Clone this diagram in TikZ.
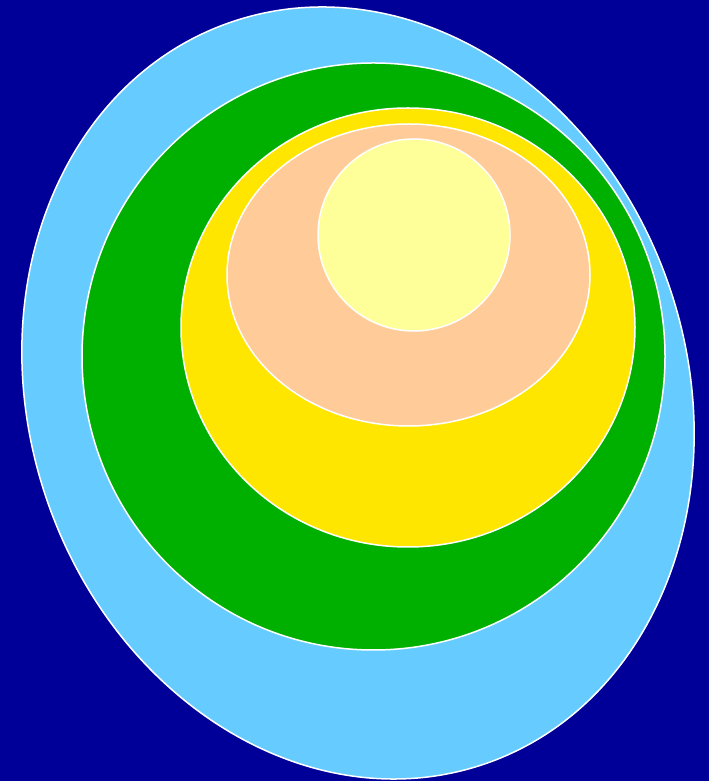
\documentclass[tikz,border=0pt]{standalone}
\definecolor{bgblue}{RGB}{0,0,153}
\definecolor{skyb}{RGB}{102,204,255}
\definecolor{grn}{RGB}{0,176,0}
\definecolor{yel}{RGB}{255,230,0}
\definecolor{peach}{RGB}{255,204,153}
\definecolor{lyel}{RGB}{255,255,153}
\begin{document}
\begin{tikzpicture}[x=1pt,y=1pt,ring/.style={draw=white,line width=1.5pt}]
\fill[bgblue] (0,0) rectangle (709,781);
\useasboundingbox (0,0) rectangle (709,781);
\draw[ring,fill=skyb,rotate around={18.8:(358,388)}] (358,388) ellipse [x radius=329, y radius=392];
\draw[ring,fill=grn] (373.5,424.5) ellipse [x radius=291.5, y radius=293.5];
\draw[ring,fill=yel] (408,453.5) ellipse [x radius=227, y radius=219.5];
\draw[ring,fill=peach] (408.5,506) ellipse [x radius=181.5, y radius=151];
\draw[ring,fill=lyel] (414,546) circle [radius=96];
\end{tikzpicture}
\end{document}
